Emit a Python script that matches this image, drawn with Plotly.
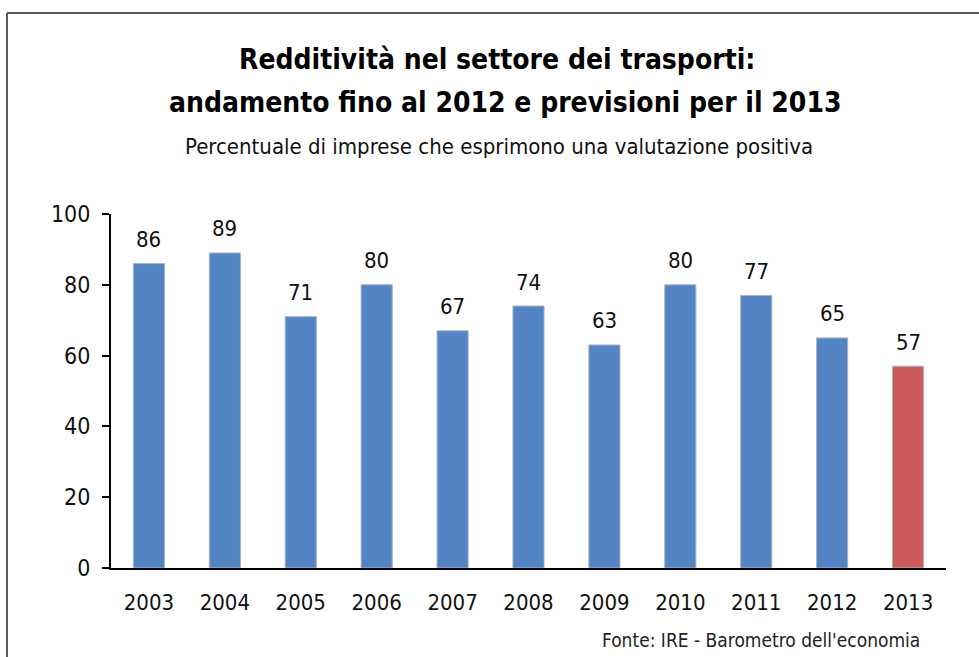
import plotly.graph_objects as go

years = ["2003", "2004", "2005", "2006", "2007", "2008", "2009", "2010", "2011", "2012", "2013"]
positive_share = [86, 89, 71, 80, 67, 74, 63, 80, 77, 65, 57]
bar_colors = ["#5384C6"] * 10 + ["#CC5B59"]

title_line1 = "Redditività nel settore dei trasporti:"
title_line2 = "andamento fino al 2012 e previsioni per il 2013"
subtitle = "Percentuale di imprese che esprimono una valutazione positiva"
source_note = "Fonte: IRE - Barometro dell'economia"

W, H = 979, 657
ML, MR, MT, MB = 111, 33, 214, 89
PW, PH = W - ML - MR, H - MT - MB

NARROW = "Liberation Sans Narrow, Arial Narrow, DejaVu Sans Condensed, sans-serif"


def px_x(x):
    return (x - ML) / PW


def px_y(y):
    return (H - MB - y) / PH


fig = go.Figure(
    go.Bar(
        x=years,
        y=positive_share,
        marker=dict(color=bar_colors, line=dict(color="#A9B2BE", width=1)),
        width=0.41,
        hoverinfo="x+y",
    )
)

# value labels above bars (category index positions)
for i, v in enumerate(positive_share):
    fig.add_annotation(
        x=i, y=v, xref="x", yref="y", text=str(v), showarrow=False,
        xanchor="center", yanchor="middle", yshift=24,
        font=dict(family=NARROW, size=22, color="#111111"),
    )

# titles
fig.add_annotation(
    x=px_x(497), y=px_y(59), xref="paper", yref="paper", text=f"<b>{title_line1}</b>",
    showarrow=False, xanchor="center", yanchor="middle",
    font=dict(family=NARROW, size=28, color="#000000"),
)
fig.add_annotation(
    x=px_x(505), y=px_y(102), xref="paper", yref="paper", text=f"<b>{title_line2}</b>",
    showarrow=False, xanchor="center", yanchor="middle",
    font=dict(family=NARROW, size=28, color="#000000"),
)
fig.add_annotation(
    x=px_x(499), y=px_y(146), xref="paper", yref="paper", text=subtitle,
    showarrow=False, xanchor="center", yanchor="middle",
    font=dict(family=NARROW, size=22, color="#111111"),
)
fig.add_annotation(
    x=px_x(922), y=px_y(640), xref="paper", yref="paper", text=source_note,
    showarrow=False, xanchor="right", yanchor="middle",
    font=dict(family=NARROW, size=19, color="#222222"),
)

# frame around the chart (top and left edges)
fig.add_shape(type="line", xref="paper", yref="paper",
              x0=px_x(7), x1=px_x(W + 5), y0=px_y(13), y1=px_y(13),
              line=dict(color="#5a5a5a", width=2))
fig.add_shape(type="line", xref="paper", yref="paper",
              x0=px_x(7), x1=px_x(7), y0=px_y(13), y1=px_y(H + 5),
              line=dict(color="#5a5a5a", width=2))

fig.update_layout(
    width=W, height=H,
    margin=dict(l=ML, r=MR, t=MT, b=MB, pad=0),
    paper_bgcolor="white", plot_bgcolor="white",
    showlegend=False,
    xaxis=dict(
        type="category", range=[-0.5, 10.5],
        showline=True, linecolor="#000000", linewidth=2,
        ticks="", showgrid=False, zeroline=False,
        tickfont=dict(family=NARROW, size=22, color="#111111"),
        ticklabelstandoff=14,
    ),
    yaxis=dict(
        range=[0, 100], tickvals=[0, 20, 40, 60, 80, 100],
        showline=True, linecolor="#000000", linewidth=2,
        ticks="outside", ticklen=7, tickwidth=2, tickcolor="#000000",
        showgrid=False, zeroline=False,
        tickfont=dict(family=NARROW, size=23, color="#111111"),
        ticklabelstandoff=7,
    ),
)

fig.write_html("out.html")
